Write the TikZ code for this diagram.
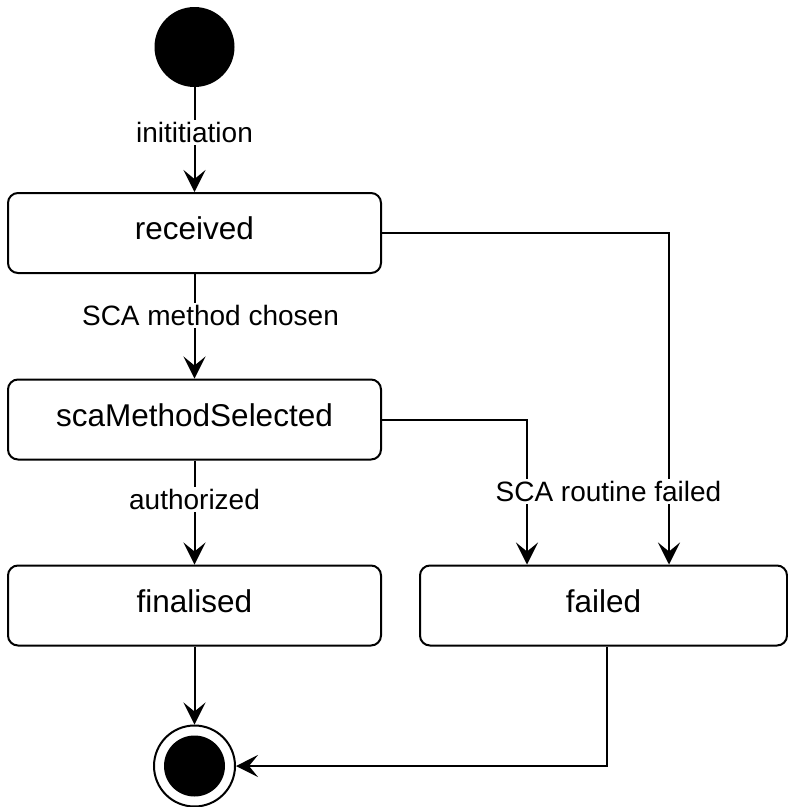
\documentclass[tikz,border=0pt]{standalone}
\usepackage{fontspec}
\setmainfont{Liberation Sans}
\usetikzlibrary{arrows.meta}
\begin{document}
\begin{tikzpicture}[x=1pt,y=-1pt,
  statebox/.style={draw=black, line width=2pt, rounded corners=10pt, fill=white,
    minimum width=373pt, minimum height=80pt, inner sep=0pt,
    font=\fontsize{31.5}{36}\selectfont, text height=20pt, text depth=7pt},
  lbl/.style={fill=white, inner sep=2pt, anchor=base, font=\fontsize{28}{32}\selectfont},
  conn/.style={line width=2pt, -{Stealth[length=22pt,width=22pt,inset=9pt]}},
  plain/.style={line width=2pt}
]
\useasboundingbox (0,0) rectangle (788,807);
% states
\node[circle, fill=black, minimum size=80pt, inner sep=0pt] (start) at (194.5,47) {};
\node[statebox] (received) at (194.5,233) {received};
\node[statebox] (sca) at (194.5,419.5) {scaMethodSelected};
\node[statebox] (finalised) at (194.5,605.5) {finalised};
\node[statebox, minimum width=367pt] (failed) at (603.5,605.5) {failed};
\node[circle, draw=black, line width=2pt, fill=white, minimum size=81pt, inner sep=0pt] (endstate) at (194.5,766) {};
\node[circle, fill=black, minimum size=61pt, inner sep=0pt] (endin) at (194.5,766) {};
% connectors
\draw[conn] (start) -- node[lbl, pos=0.53] {inititiation} (received);
\draw[conn] (received) -- node[lbl, pos=0.495, xshift=16pt] {SCA method chosen} (sca);
\draw[conn] (sca) -- node[lbl, pos=0.47] {authorized} (finalised);
\draw[conn] (finalised) -- (endstate);
\draw[conn] (received.east) -| ([xshift=65.5pt]failed.north);
\draw[conn] (sca.east) -| ([xshift=-76.5pt]failed.north);
\draw[conn] ([xshift=3.5pt]failed.south) |- (endstate);
\node[lbl] (faillbl) at (608.5,501.7) {SCA routine failed};
\end{tikzpicture}
\end{document}
